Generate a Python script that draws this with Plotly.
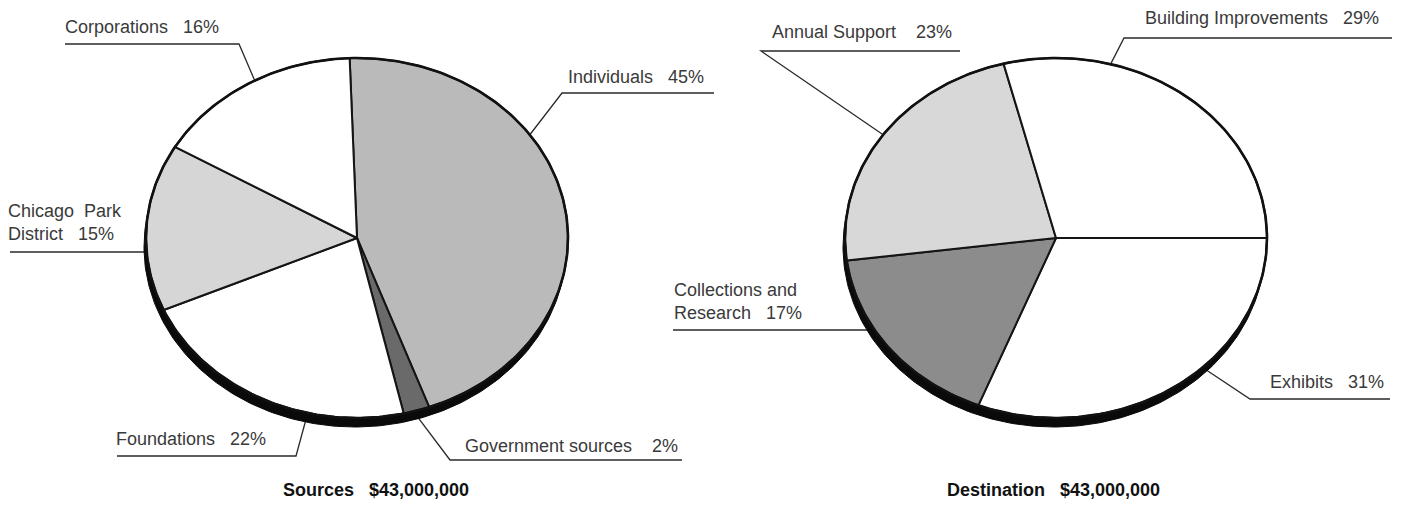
"""
Sources and destination of funds: two tilted pie charts with leader labels.
"""
import numpy as np
import plotly.graph_objects as go

# ---- data -------------------------------------------------------------
src_labels = ["Individuals", "Government sources", "Foundations",
              "Chicago Park District", "Corporations"]
src_values = [45, 2, 22, 15, 16]
src_colors = ["#bababa", "#6a6a6a", "#ffffff", "#d6d6d6", "#ffffff"]

dst_labels = ["Exhibits", "Collections and Research", "Annual Support",
              "Building Improvements"]
dst_values = [31, 17, 23, 29]
dst_colors = ["#ffffff", "#8c8c8c", "#d8d8d8", "#ffffff"]

src_title = "Sources   $43,000,000"
dst_title = "Destination   $43,000,000"

# ---- layout helpers ---------------------------------------------------
W, H = 1403, 505
NB = "\u00a0"
LABEL_FONT = dict(family="Liberation Sans, Arial, sans-serif", size=18, color="#3a3a3a")
TITLE_FONT = dict(family="Liberation Sans, Arial, sans-serif", size=18, color="#111111")

# how each label is broken over lines
wrap = {
    "Chicago Park District": "Chicago" + NB * 2 + "Park<br>District",
    "Collections and Research": "Collections and<br>Research",
}


def ellipse_pt(cx, cy, rx, ry, t):
    """t in degrees, clockwise from 12 o'clock."""
    r = np.radians(t)
    return cx + rx * np.sin(r), cy - ry * np.cos(r)


def add_pie(fig, cx, cy, rx, ry, values, colors, start):
    # drop shadow
    tt = np.linspace(0, 360, 361)
    sx, sy = ellipse_pt(cx - 2, cy + 9, rx, ry, tt)
    fig.add_trace(go.Scatter(x=sx, y=sy, mode="lines", fill="toself",
                             fillcolor="#0a0a0a", line=dict(color="#0a0a0a", width=1),
                             hoverinfo="skip", showlegend=False))
    total = sum(values)
    a = start
    for v, c in zip(values, colors):
        span = v / total * 360
        ts = np.linspace(a, a + span, int(span) + 2)
        x, y = ellipse_pt(cx, cy, rx, ry, ts)
        x = np.concatenate([[cx], x, [cx]])
        y = np.concatenate([[cy], y, [cy]])
        fig.add_trace(go.Scatter(x=x, y=y, mode="lines", fill="toself",
                                 fillcolor=c, line=dict(color="#151515", width=2),
                                 hoverinfo="skip", showlegend=False))
        a += span
    # outer rim
    ox, oy = ellipse_pt(cx, cy, rx, ry, tt)
    fig.add_trace(go.Scatter(x=ox, y=oy, mode="lines",
                             line=dict(color="#111111", width=2.6),
                             hoverinfo="skip", showlegend=False))


def add_labels(fig, cx, cy, rx, ry, labels, values, specs):
    for lab, val in zip(labels, values):
        tx, ty, ly, far_x, elbow_x, t, gap = specs[lab]
        ax, ay = ellipse_pt(cx, cy, rx, ry, t)
        ex = ax if elbow_x is None else elbow_x
        fig.add_shape(type="path",
                      path=f"M {far_x},{ly} L {ex},{ly} L {ax},{ay}",
                      line=dict(color="#2a2a2a", width=1.3), layer="below")
        text = wrap.get(lab, lab) + NB * gap + f"{val}%"
        fig.add_annotation(x=tx, y=ty, text=text, showarrow=False,
                           xanchor="left", yanchor="middle", align="left",
                           font=LABEL_FONT)


# text x, text y, underline y, underline far end, elbow x, rim angle, spaces
src_specs = {
    "Individuals": (566, 77, 93, 714, 562, 55, 3),
    "Government sources": (463, 446, 460, 682, 450, 164.5, 4),
    "Foundations": (114, 439, 456, 117, 296, 193.5, 3),
    "Chicago Park District": (6, 222, 252, 10, None, 265.5, 3),
    "Corporations": (63, 27, 44, 65, 239, 331, 3),
}
dst_specs = {
    "Exhibits": (1268, 382, 399, 1390, 1250, 136, 3),
    "Collections and Research": (672, 301, 330, 673, None, 239.5, 3),
    "Annual Support": (770, 32, 51, 960, 761, 305, 4),
    "Building Improvements": (1143, 18, 38, 1392, 1124, 15, 3),
}

fig = go.Figure()

add_pie(fig, 357, 238, 211, 180, src_values, src_colors, start=-2)
add_pie(fig, 1056, 238, 211, 180, dst_values, dst_colors, start=90)

add_labels(fig, 357, 238, 211, 180, src_labels, src_values, src_specs)
add_labels(fig, 1056, 238, 211, 180, dst_labels, dst_values, dst_specs)

for x, txt in [(281, src_title), (945, dst_title)]:
    fig.add_annotation(x=x, y=490, text="<b>" + txt.replace(" ", NB) + "</b>",
                       showarrow=False, xanchor="left", yanchor="middle",
                       font=TITLE_FONT)

fig.update_layout(
    width=W, height=H,
    margin=dict(l=0, r=0, t=0, b=0),
    paper_bgcolor="white", plot_bgcolor="white",
    showlegend=False,
    xaxis=dict(range=[0, W], visible=False, fixedrange=True),
    yaxis=dict(range=[H, 0], visible=False, fixedrange=True),
)

# the page's default body margin would push the figure 8px off the window
fig.write_html("out.html", config={"displayModeBar": False},
               post_script="document.body.style.margin='0';")
